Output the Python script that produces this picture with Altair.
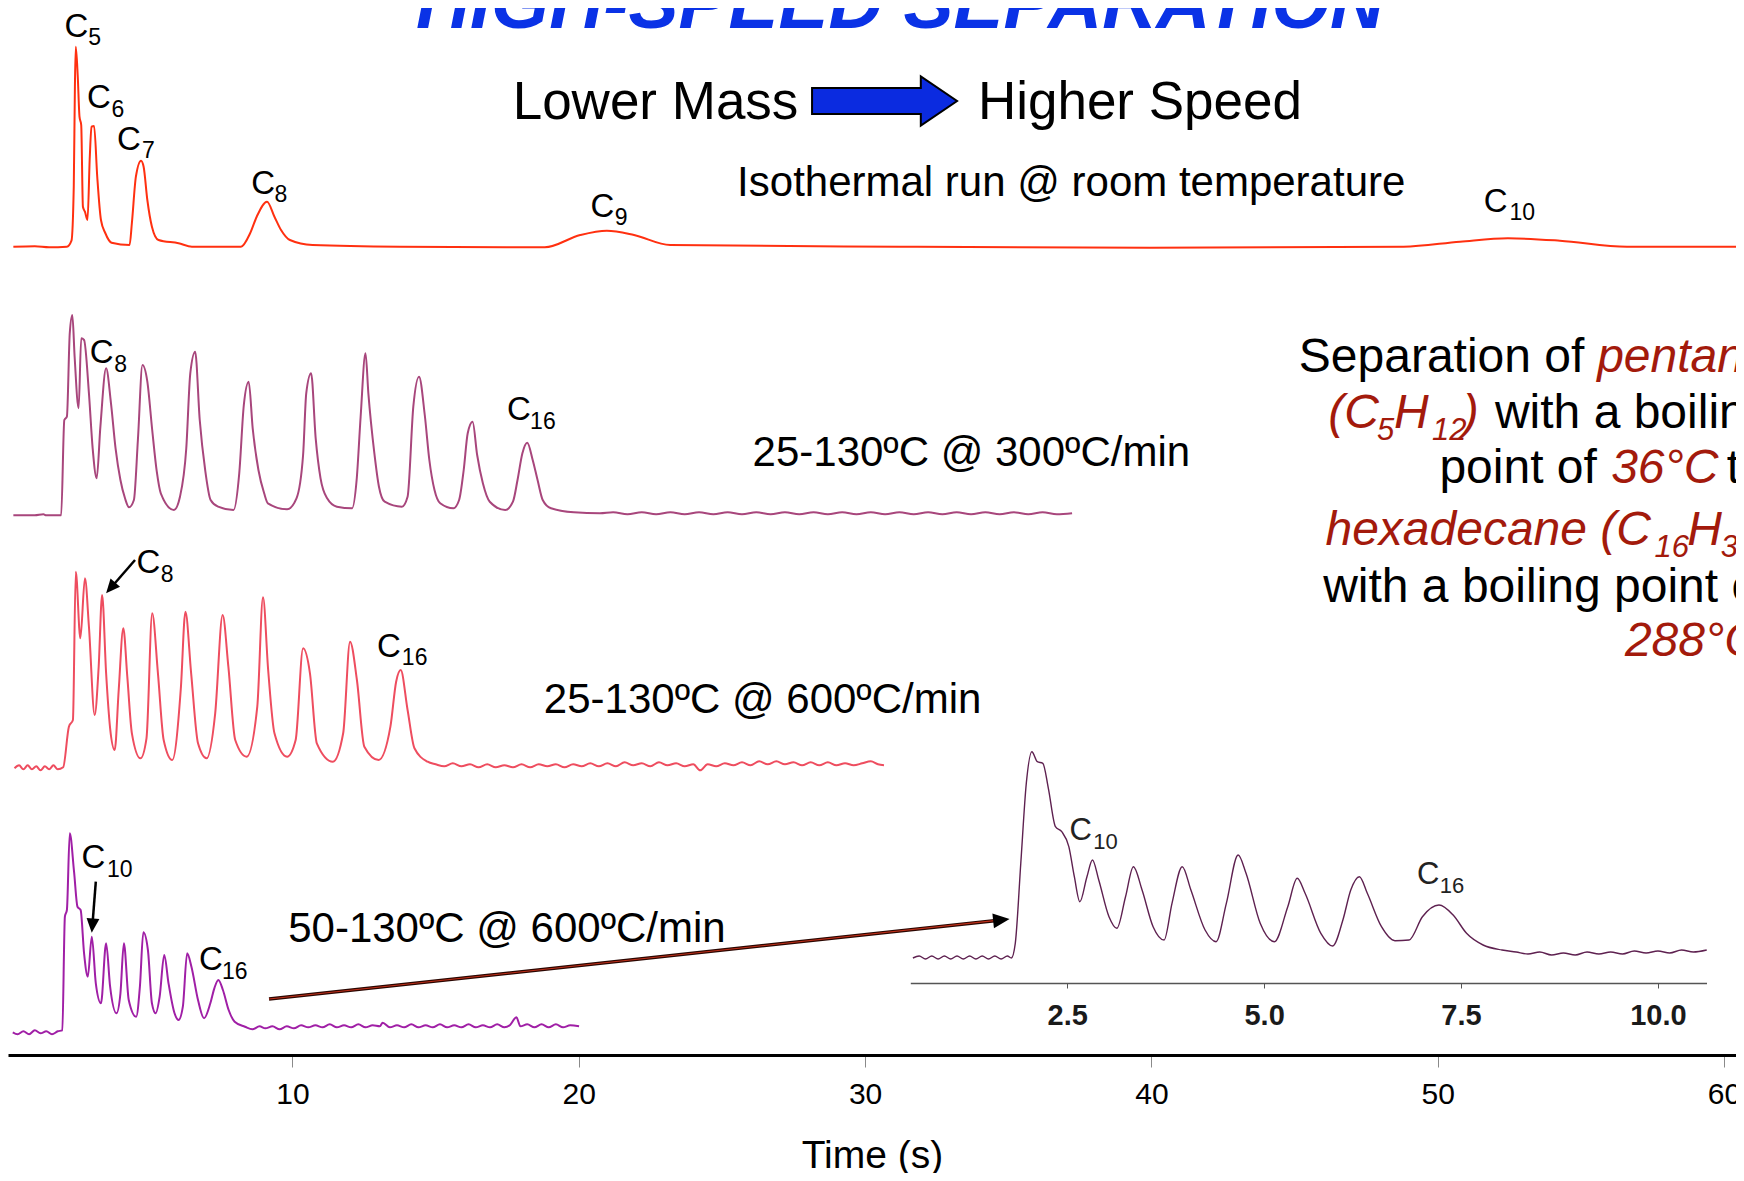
import altair as alt
import pandas as pd

FONT = "Liberation Sans"

# ---------------- data (time in s, signal height in arbitrary units) ----------------
# Isothermal run @ room temperature
T1 = [(0.25,0),(1.0,0.5),(1.5,-0.5),(2.12,0),(2.28,6),(2.36,60),(2.40,160),(2.43,200),(2.50,170),
      (2.56,130),(2.62,121.7),(2.68,40),(2.75,35),(2.84,26.7),(2.92,90),(2.98,120),(3.07,120.7),
      (3.18,70),(3.31,26.7),(3.46,13.7),(3.68,4),(4.31,1.7),(4.39,23.7),(4.53,70),(4.71,86),(4.80,80),
      (4.93,46.7),(5.09,20),(5.32,6.7),(6.02,3.4),(6.49,0),(8.20,0),(8.52,13.4),(8.75,30),(9.11,45),
      (9.37,30),(9.60,16.7),(9.91,6.7),(10.70,1.7),(13.75,0),(18.81,-0.6),(20.05,11.7),(20.98,16),
      (21.93,11.7),(23.19,1.7),(31.22,0),(39.95,-1),(48.81,0),(50.78,5),(52.45,8.4),(54.27,6),
      (56.61,0),(60.49,0)]
# 25-130 C @ 300 C/min
T2 = [(0.25,0),(1.0,0),(1.3,1),(1.4,0),(1.92,0),(2.03,95.3),(2.12,98.6),(2.22,182),(2.31,200.3),
      (2.39,158.6),(2.53,107),(2.62,177),(2.72,175.3),(2.89,122),(3.02,67),(3.16,37),(3.29,88.6),
      (3.49,147),(3.66,112),(3.82,67),(3.99,35.3),(4.15,17),(4.29,8),(4.46,15.3),(4.60,75.3),
      (4.76,150.3),(4.93,133.6),(5.10,85.3),(5.26,43.6),(5.40,22),(5.86,5.3),(6.07,18.6),(6.29,67),
      (6.43,142),(6.60,163.6),(6.76,95.3),(6.95,45.3),(7.14,15.3),(7.40,8.6),(7.94,5.3),(8.14,42),
      (8.30,110.3),(8.47,133.6),(8.61,87),(8.81,45.3),(9.01,22),(9.14,12),(9.81,6),(10.14,17),
      (10.37,60.3),(10.48,122),(10.65,142),(10.81,77),(10.98,37),(11.21,17),(11.55,8.6),(12.08,7),
      (12.24,35.3),(12.38,98.6),(12.55,162),(12.65,122),(12.86,62),(13.02,28.6),(13.22,13.6),
      (13.82,8.6),(14.02,18.6),(14.22,108.6),(14.42,138.6),(14.62,100.3),(14.78,55.3),(14.96,25.3),
      (15.16,12),(15.62,7),(15.82,15.3),(15.98,45.3),(16.12,82),(16.29,93.6),(16.45,60.3),(16.65,32),
      (16.89,13.6),(17.43,5.3),(17.70,13.6),(17.86,35.3),(18.03,62),(18.20,72.6),(18.39,55.3),
      (18.56,35.3),(18.74,15.3),(19.03,7),(19.83,3),(20.74,2),(21.2,3),(21.7,1),(22.2,3),(22.7,1),
      (23.2,3),(23.7,1),(24.2,3),(24.7,1),(25.2,3),(25.7,1),(26.2,3),(26.7,1),(27.2,3),(27.7,1),
      (28.2,3),(28.7,1),(29.2,3),(29.7,1),(30.2,3),(30.7,1),(31.2,3),(31.7,1),(32.2,3),(32.7,1),
      (33.2,3),(33.7,1),(34.2,3),(34.7,1),(35.2,3),(35.7,1),(36.2,3),(36.7,1),(37.23,2)]
# 25-130 C @ 600 C/min
T3 = [(0.29,0),(0.45,3),(0.6,-1),(0.75,3),(0.9,-1),(1.05,2),(1.2,-2),(1.35,2),(1.5,-1),(1.65,3),
      (1.8,-1),(1.99,1),(2.19,41.6),(2.33,48.3),(2.43,196.6),(2.59,130),(2.75,190),(2.89,141.6),
      (3.09,53.3),(3.23,101.6),(3.35,173.3),(3.49,95),(3.63,40),(3.79,18.3),(3.93,78.3),(4.09,140),
      (4.23,91.6),(4.39,35),(4.69,10),(4.90,30),(5.10,155),(5.30,95),(5.50,28.3),(5.80,8.3),(6.10,80),
      (6.26,156.6),(6.46,95),(6.70,25),(7.00,10),(7.30,55),(7.56,153.3),(7.76,101.6),(8.00,28.3),
      (8.40,11.6),(8.77,61.6),(8.97,171),(9.15,98.3),(9.37,35),(9.81,11.6),(10.11,28.3),(10.37,120),
      (10.61,95),(10.85,25),(11.41,6.6),(11.77,35),(12.01,126.6),(12.25,88.3),(12.51,21.6),(13.01,8.3),
      (13.42,41.6),(13.62,86.6),(13.78,98.3),(14.02,58.3),(14.26,20),(14.72,6.6),(15.0,4),(15.3,2),
      (15.6,5),(15.9,2),(16.2,4),(16.5,1),(16.8,4),(17.1,1),(17.4,3),(17.7,1),(18.0,4),(18.3,1),
      (18.6,4),(18.9,2),(19.2,4),(19.5,1),(19.8,4),(20.1,2),(20.4,5),(20.7,2),(21.0,5),(21.3,2),
      (21.6,6),(21.9,3),(22.2,5),(22.5,2),(22.8,6),(23.1,3),(23.4,5),(23.7,2),(24.0,4),(24.24,-2),
      (24.5,4),(24.8,2),(25.1,5),(25.4,3),(25.7,6),(26.0,3),(26.3,7),(26.6,4),(26.9,7),(27.2,4),
      (27.5,6),(27.8,3),(28.1,6),(28.4,3),(28.7,6),(29.0,3),(29.3,5),(29.6,3),(29.9,5),(30.2,7),
      (30.45,4),(30.66,3)]
# 50-130 C @ 600 C/min
T4 = [(0.23,0),(0.4,-2),(0.6,1),(0.8,-2),(1.0,2),(1.2,-1),(1.4,1),(1.6,-2),(1.8,1),(1.96,2),
      (2.05,115.6),(2.12,122.3),(2.22,199),(2.37,160.6),(2.49,125.6),(2.60,122.3),(2.72,79),(2.85,55.6),
      (2.99,95.6),(3.13,49),(3.31,29),(3.49,89),(3.63,45.6),(3.85,19),(3.99,39),(4.11,89),(4.28,32.3),
      (4.54,15.6),(4.67,45.6),(4.79,100),(4.95,82.3),(5.09,29),(5.22,19),(5.36,35.6),(5.52,77.3),
      (5.67,49),(5.88,19),(6.02,12.3),(6.17,25.6),(6.32,79),(6.47,65.6),(6.70,32.3),(6.91,14),
      (7.13,29),(7.27,44),(7.41,52.3),(7.57,42.3),(7.77,22.3),(7.98,10.6),(8.34,5.6),(8.6,3),(8.85,6),
      (9.05,4),(9.3,6),(9.55,3),(9.8,6),(10.05,4),(10.3,7),(10.55,5),(10.8,7),(11.05,5),(11.3,8),
      (11.55,5),(11.8,7),(12.05,5),(12.3,8),(12.55,5),(12.8,7),(13.05,6),(13.15,9.6),(13.4,5),
      (13.65,7),(13.9,5),(14.15,8),(14.4,5),(14.65,7),(14.9,5),(15.15,8),(15.4,5),(15.65,7),(15.9,5),
      (16.15,8),(16.4,5),(16.65,7),(16.9,5),(17.15,8),(17.4,5),(17.6,7.3),(17.82,15),(17.96,6),
      (18.2,8),(18.45,5),(18.7,8),(18.95,5),(19.2,8),(19.45,5),(19.7,7),(20.01,6)]
# inset: 50-130 C @ 600 C/min, expanded time axis
T_INSET = [(0.54,0),(0.62,2),(0.70,-1),(0.78,2),(0.86,-1),(0.94,2),(1.02,-1),(1.10,2),(1.18,-1),
           (1.26,2),(1.34,-1),(1.42,2),(1.50,-1),(1.58,2),(1.66,-1),(1.74,2),(1.79,0),(1.84,14.7),
           (1.91,94.7),(1.98,174.7),(2.05,206.3),(2.12,196.3),(2.19,194.7),(2.26,169.7),(2.35,131.3),
           (2.43,126.3),(2.52,111.3),(2.59,81.3),(2.66,56.3),(2.75,81.3),(2.82,98),(2.90,78),(3.03,41.3),
           (3.13,29.7),(3.24,61.3),(3.34,91.3),(3.45,68),(3.59,31.3),(3.73,18),(3.83,54.7),(3.96,91.3),
           (4.07,68),(4.25,28),(4.39,16.3),(4.52,54.7),(4.67,103),(4.77,84.7),(4.95,34.7),(5.13,16.3),
           (5.30,51.3),(5.42,79.7),(5.52,64.7),(5.72,24.7),(5.87,12),(6.00,38),(6.10,68),(6.21,81.3),
           (6.31,64.7),(6.49,31.3),(6.66,17.3),(6.84,18),(7.01,41.3),(7.22,53),(7.40,43),(7.57,24.7),
           (7.78,13),(8.02,8),(8.2,6),(8.35,4),(8.5,6),(8.65,3),(8.8,5),(8.95,3),(9.1,6),(9.25,4),
           (9.4,6),(9.55,4),(9.7,7),(9.85,5),(10.0,7),(10.15,5),(10.3,8),(10.45,6),(10.62,8)]

TRACE_NAMES = ["iso", "r300", "r600", "r600b"]
TRACE_BASE = [808.3, 539.7, 286.7, 22.7]
TRACE_COLORS = ["#ff3010", "#a8467c", "#ee4d5f", "#a01fa6"]
INSET_BASE = 97.0

# peak labels: (text, t, v)
PEAK_C = [("C",2.04,1017.7),("C",2.82,946.7),("C",3.87,905),("C",8.56,860.7),("C",20.41,837.7),
          ("C",51.61,843.3),("C",2.92,691.7),("C",17.49,635),("C",4.55,481.7),("C",12.95,398.3),
          ("C",2.63,186.7),("C",6.73,85)]
PEAK_SUB = [("5",2.87,1010),("6",3.68,938.3),("7",4.74,896.7),("8",9.37,853.3),("9",21.26,830),
            ("10",52.51,835),("8",3.77,683.3),("16",18.30,625.7),("8",5.40,473.3),("16",13.82,390),
            ("10",3.52,177.7),("16",7.54,76)]
INSET_C = [("C",2.53,215),("C",6.94,171)]
INSET_SUB = [("10",2.83,205.7),("16",7.23,162.3)]

RUN_LABELS = [("25-130ºC @ 300ºC/min",26.07,589),("25-130ºC @ 600ºC/min",18.78,341.7),
              ("50-130ºC @ 600ºC/min",9.85,113.3)]
HEAD_LABELS = [("Lower Mass",17.69,935.7),("Higher Speed",33.94,935.7)]
ISO_LABEL = [("Isothermal run @ room temperature",25.53,859)]
TITLE = [("HIGH-SPEED SEPARATION",31.22,1027)]
BLUE_ARROW = [(30.68,954)]

NOTE_BLACK = [("Separation of",45.15,683.3),("with a boiling",52.00,626.7),("point of",50.06,572.3),
              ("to",60.10,572.3),("with a boiling point of",46.0,453.3)]
NOTE_RED = [("pentane",55.57,683.3),("(C",46.18,626.7),("H",48.47,626.7),(")",50.88,626.7),
            ("36°C",56.06,572.3),("hexadecane (C",46.08,510),("H",58.72,510),("288°C.",56.54,399)]
NOTE_RED_SUB = [("5",47.88,615),("12",49.80,615),("16",57.57,498),("34",59.89,498)]

# arrows: (t, v, t2, v2)
SMALL_ARROWS = [(4.50,495,3.65,467),(3.13,173.3,3.01,129.4)]
SMALL_HEADS = [(3.65,467,131),(3.01,129.4,95)]
ZOOM_ARROW = [(9.18,56,34.76,135.1)]
ZOOM_HEAD = [(34.76,135.1,354)]

INSET_TICKS = [2.5, 5.0, 7.5, 10.0]
MAIN_TICKS = [10, 20, 30, 40, 50, 60]

# ---------------- scales ----------------
XS = alt.Scale(domain=[0.0629, 60.42], nice=False, zero=False)
XS_IN = alt.Scale(domain=[0.507, 10.617], range=[902.3, 1698.5], nice=False, zero=False)
YS = alt.Scale(domain=[0, 1047], nice=False, zero=False)

MAIN_AXIS = alt.Axis(orient="bottom", values=MAIN_TICKS, format="d", grid=False,
                     domainColor="black", domainWidth=3, tickColor="#8a8a8a", tickWidth=1,
                     tickSize=12, labelFont=FONT, labelFontSize=30, labelColor="black",
                     labelPadding=12, labelFlush=False, labelOverlap=False,
                     title="Time (s)", titleFont=FONT, titleFontSize=39,
                     titleFontWeight="normal", titleColor="black", titlePadding=27)
INSET_AXIS = alt.Axis(orient="bottom", offset=-72, values=INSET_TICKS, format=".1f", grid=False,
                      domainColor="#555555", domainWidth=1.5, tickColor="#555555", tickWidth=1,
                      tickSize=5, labelFont=FONT, labelFontSize=29, labelFontWeight="bold",
                      labelColor="#1a1a1a", labelPadding=13, labelFlush=False, title=None)

HEAD_SHAPE = "M -1 -0.9 L 1 0 L -1 0.9 Z"
BLOCK_ARROW = "M -1 -0.18 L 0.5 -0.18 L 0.5 -0.34 L 1 0 L 0.5 0.34 L 0.5 0.18 L -1 0.18 Z"


def ypos():
    return alt.Y("v:Q", scale=YS, axis=None)


def xpos(xs=None, axis=None):
    return alt.X("t:Q", scale=xs if xs is not None else XS, axis=axis)


def text_layer(rows, size, color="black", style="normal", weight="normal", align="left", xs=None):
    df = pd.DataFrame(rows, columns=["text", "t", "v"])
    return alt.Chart(df).mark_text(
        align=align, baseline="alphabetic", font=FONT, fontSize=size,
        fontStyle=style, fontWeight=weight, color=color
    ).encode(x=xpos(xs), y=ypos(), text="text:N")


rows = []
for name, pts, base, col in zip(TRACE_NAMES, [T1, T2, T3, T4], TRACE_BASE, TRACE_COLORS):
    for i, (t, h) in enumerate(pts):
        rows.append({"trace": name, "t": t, "v": base + h, "col": col, "i": i})
traces_df = pd.DataFrame(rows)

traces = alt.Chart(traces_df).mark_line(strokeWidth=2, strokeJoin="round", interpolate="monotone").encode(
    x=xpos(axis=MAIN_AXIS),
    y=ypos(),
    color=alt.Color("col:N", scale=None),
    detail="trace:N",
    order="i:Q",
)

arrow_df = pd.DataFrame(SMALL_ARROWS, columns=["t", "v", "t2", "v2"])
small_rules = alt.Chart(arrow_df).mark_rule(color="black", strokeWidth=2.5).encode(
    x=xpos(), x2="t2:Q", y=ypos(), y2="v2:Q")
heads_df = pd.DataFrame(SMALL_HEADS + ZOOM_HEAD, columns=["t", "v", "a"])
heads_df["s"] = [196, 204, 272]
heads = alt.Chart(heads_df).mark_point(shape=HEAD_SHAPE, filled=True, opacity=1, color="black").encode(
    x=xpos(), y=ypos(),
    angle=alt.Angle("a:Q", scale=None), size=alt.Size("s:Q", scale=None))

zoom_df = pd.DataFrame(ZOOM_ARROW, columns=["t", "v", "t2", "v2"])
zoom_dark = alt.Chart(zoom_df).mark_rule(color="#2a0600", strokeWidth=3.5).encode(
    x=xpos(), x2="t2:Q", y=ypos(), y2="v2:Q")
zoom_red = alt.Chart(zoom_df).mark_rule(color="#c0301a", strokeWidth=1.1).encode(
    x=xpos(), x2="t2:Q", y=ypos(), y2="v2:Q")

blue_df = pd.DataFrame(BLUE_ARROW, columns=["t", "v"])
blue_arrow = alt.Chart(blue_df).mark_point(
    shape=BLOCK_ARROW, size=21025, filled=True, fill="#0b2be0", stroke="black",
    strokeWidth=2, opacity=1
).encode(x=xpos(), y=ypos())

inset_df = pd.DataFrame([{"t": t, "v": INSET_BASE + h, "i": i} for i, (t, h) in enumerate(T_INSET)])
inset_trace = alt.Chart(inset_df).mark_line(strokeWidth=1.4, color="#5e2150", interpolate="monotone").encode(
    x=xpos(XS_IN, INSET_AXIS), y=ypos(), order="i:Q")

chart = alt.layer(
    traces,
    inset_trace,
    text_layer(PEAK_C, 33),
    text_layer(PEAK_SUB, 23),
    text_layer(RUN_LABELS, 42),
    text_layer(HEAD_LABELS, 53),
    text_layer(ISO_LABEL, 42),
    text_layer(TITLE, 75, color="#0a32e6", style="italic", weight="bold", align="center"),
    blue_arrow,
    text_layer(NOTE_BLACK, 48),
    text_layer(NOTE_RED, 48, color="#a31a0c", style="italic"),
    text_layer(NOTE_RED_SUB, 31, color="#a31a0c", style="italic"),
    small_rules,
    zoom_dark,
    zoom_red,
    heads,
    text_layer(INSET_C, 31, color="#222222", xs=XS_IN),
    text_layer(INSET_SUB, 22, color="#222222", xs=XS_IN),
).resolve_scale(x="independent").properties(
    width=1728, height=1047,
    autosize=alt.AutoSizeParams(type="none"),
    padding={"left": 0, "top": 0, "right": 0, "bottom": 118},
).configure_view(strokeWidth=0)

chart.save("out.html", embed_options={"renderer": "svg", "actions": False})
